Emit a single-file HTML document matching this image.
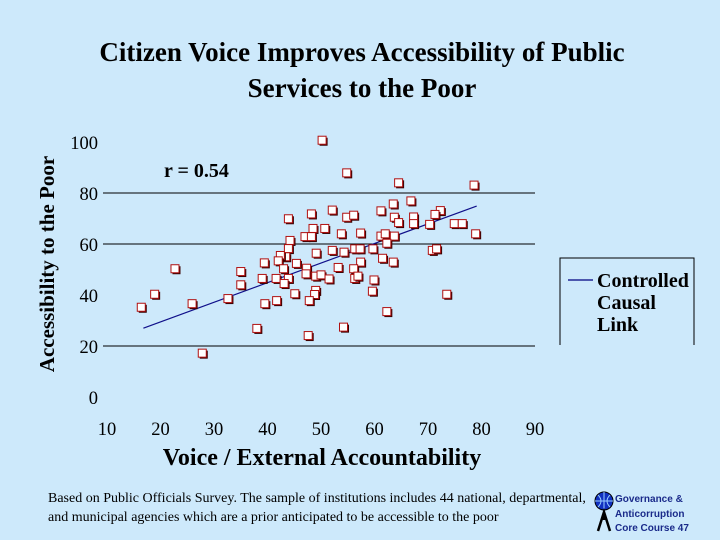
<!DOCTYPE html>
<html><head><meta charset="utf-8"><style>
body{margin:0;width:720px;height:540px;background:#cde9fb;overflow:hidden;font-family:"Liberation Serif",serif;}
svg{position:absolute;left:0;top:0}
</style></head><body>
<svg width="720" height="540">
<text x="362" y="61" text-anchor="middle" font-size="27" font-weight="bold">Citizen Voice Improves Accessibility of Public</text>
<text x="362" y="97" text-anchor="middle" font-size="27" font-weight="bold">Services to the Poor</text>
<text transform="translate(54,264) rotate(-90)" text-anchor="middle" font-size="21" font-weight="bold">Accessibility to the Poor</text>
<text x="322" y="465" text-anchor="middle" font-size="24" font-weight="bold">Voice / External Accountability</text>
<text x="164" y="177" font-size="20" font-weight="bold">r = 0.54</text>
<g id="grid"></g><g id="ticks"></g><g id="fit"></g><g id="pts"></g>
<g>
<path d="M560,345 V258 H694 V345" fill="none" stroke="#000" stroke-width="1"/>
<line x1="568" y1="280" x2="593" y2="280" stroke="#000080" stroke-width="1.2"/>
<text x="597" y="287" font-size="20" font-weight="bold"><tspan x="597">Controlled</tspan><tspan x="597" dy="22">Causal</tspan><tspan x="597" dy="22">Link</tspan></text>
</g>
<text font-size="14"><tspan x="48" y="502">Based on Public Officials Survey. The sample of institutions includes 44 national, departmental,</tspan><tspan x="48" y="521">and municipal agencies which  are a prior anticipated to be accessible to the poor</tspan></text>
<g>
<circle cx="604" cy="501" r="9" fill="#1030c0" stroke="#000" stroke-width="1"/>
<path d="M595,501 H613 M604,492 V510 M598,495 Q604,501 598,507 M610,495 Q604,501 610,507" stroke="#9cf" fill="none" stroke-width="1"/>
<path d="M598,531 L604,512 L610,531 M604,512 L604,520" stroke="#000" stroke-width="2.5" fill="none"/>
</g>
<text font-family="Liberation Sans,sans-serif" font-size="10" font-weight="bold" fill="#1a2a8a"><tspan x="615" y="502">Governance &amp;</tspan><tspan x="615" y="517">Anticorruption</tspan><tspan x="615" y="531">Core Course   47</tspan></text>
</svg>
<script>
const xTicks=[10,20,30,40,50,60,70,80,90];
const yTicks=[0,20,40,60,80,100];
const gridVals=[20,60,80];
const voice=[50.3,54.9,64.6,78.7,66.9,63.6,72.4,71.4,52.2,48.3,44.0,54.9,56.2,61.3,63.8,64.6,67.4,67.4,70.4,75.0,76.5,79.0,48.6,50.8,47.1,48.3,53.9,57.5,61.3,62.1,63.8,62.4,44.3,44.0,49.2,52.2,54.4,56.4,57.4,59.8,70.9,71.7,43.5,42.5,42.1,39.5,45.5,57.5,61.6,63.6,22.8,35.1,43.1,47.4,53.3,56.2,47.3,49.1,50.1,51.6,56.4,57.0,39.1,41.7,44.0,43.2,60.0,35.1,19.0,45.2,49.1,48.9,59.7,73.6,26.0,32.7,39.6,41.8,47.9,16.5,62.4,38.1,54.3,47.7,27.9];
const access=[100.5,87.7,83.8,82.9,76.7,75.5,72.9,71.4,73.1,71.6,69.7,70.3,71.1,72.8,70.3,68.2,70.4,67.8,67.5,67.8,67.8,63.8,65.9,65.9,62.7,62.7,63.8,64.1,62.9,63.8,62.9,60.1,61.2,58.0,56.2,57.3,56.6,57.9,57.9,57.9,57.3,57.9,54.8,55.3,53.2,52.4,52.2,52.7,54.2,52.7,50.1,49.0,50.1,50.3,50.6,50.1,48.1,47.2,47.7,46.1,46.3,47.2,46.3,46.3,46.3,44.3,45.7,43.8,40.1,40.3,41.6,40.0,41.3,40.1,36.4,38.4,36.4,37.6,37.6,35.0,33.3,26.7,27.2,23.9,17.0];
const fitX=[16.8,79.1];
const fitY=[27.0,74.9];
const X=v=>107+(v-10)*5.35, Y=v=>397-v*2.55;
const NS='http://www.w3.org/2000/svg';
function mk(t,a,p){const e=document.createElementNS(NS,t);for(const k in a)e.setAttribute(k,a[k]);document.getElementById(p).appendChild(e);return e;}
gridVals.forEach(v=>{const l=mk('line',{x1:103,x2:535,y1:Y(v),y2:Y(v),stroke:'#000','stroke-width':1},'grid');

});
xTicks.forEach(v=>{const t=mk('text',{x:X(v),y:435,'text-anchor':'middle','font-size':18.5},'ticks');t.textContent=v;

});
yTicks.forEach(v=>{const t=mk('text',{x:98,y:Y(v)+7,'text-anchor':'end','font-size':18.5},'ticks');t.textContent=v;

});
const fl=mk('line',{x1:X(fitX[0]),y1:Y(fitY[0]),x2:X(fitX[1]),y2:Y(fitY[1]),stroke:'#10108a','stroke-width':1.2},'fit');


voice.forEach((v,i)=>{const cx=X(v),cy=Y(access[i]);
mk('rect',{x:cx-3,y:cy-3,width:8,height:8,fill:'#3a0000'},'pts');
const r=mk('rect',{x:cx-4.5,y:cy-4.5,width:8,height:8,fill:'#fff',stroke:'#b01010','stroke-width':1},'pts');

});
</script>
</body></html>
